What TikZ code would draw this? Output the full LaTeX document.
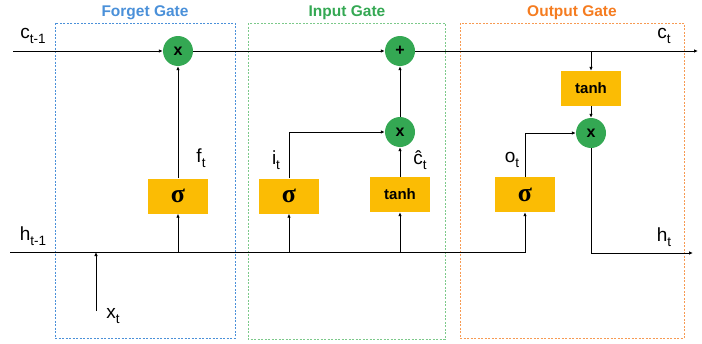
\documentclass[tikz,border=0pt]{standalone}
\usepackage{fontspec}
\setmainfont{Liberation Sans}
\newfontfamily\sigfont{Liberation Serif}
\usetikzlibrary{arrows.meta}
\definecolor{fgblue}{HTML}{4A90D9}
\definecolor{ingreen}{HTML}{34A853}
\definecolor{inbox}{HTML}{7CC98A}
\definecolor{outorange}{HTML}{F57C20}
\definecolor{outbox}{HTML}{F79A52}
\definecolor{opgreen}{HTML}{34A853}
\definecolor{fnyellow}{HTML}{FBBC04}
\newcommand{\lbl}[2]{{\fontsize{19}{19}\selectfont #1}\raisebox{-5pt}{\fontsize{13.5}{13.5}\selectfont #2}}
\newcommand{\sig}{{\sigfont\bfseries\fontsize{26}{26}\selectfont σ}}
\begin{document}
\begin{tikzpicture}[x=1pt,y=-1pt,
  op/.style={circle,fill=opgreen,minimum size=30pt,inner sep=0pt,font=\bfseries\fontsize{16}{16}\selectfont},
  fn/.style={rectangle,fill=fnyellow,minimum width=60pt,minimum height=35pt,inner sep=0pt,font=\bfseries\fontsize{15}{15}\selectfont},
  arr/.style={-{Latex[length=4pt,width=3.5pt]},line width=0.8pt},
  gatebox/.style={dash pattern=on 2pt off 1.5pt,line width=0.9pt},
  title/.style={font=\bfseries\fontsize{15.5}{15.5}\selectfont},
  lab/.style={inner sep=0pt}]
\useasboundingbox (0,0) rectangle (702,343);
% gate boxes
\draw[gatebox,fgblue] (55,23) rectangle (235,338);
\draw[gatebox,inbox] (248,23) rectangle (445,339);
\draw[gatebox,outbox] (460,23) rectangle (684,338);
\node[title,text=fgblue] (tf) at (145,13) {Forget Gate};
\node[title,text=ingreen] (ti) at (347,13) {Input Gate};
\node[title,text=outorange] (to) at (572,13) {Output Gate};
% operators
\node[op] (fx) at (178,51) {x};
\node[op] (plus) at (400,51) {+};
\node[op] (ix) at (400,132) {x};
\node[op] (ox) at (591,133) {x};
% functions
\node[fn] (fs) at (178,196) {\sig};
\node[fn] (is) at (289,196) {\sig};
\node[fn] (it) at (400,194.5) {tanh};
\node[fn] (os) at (525,194.5) {\sig};
\node[fn] (ot) at (591,88.5) {tanh};
% free ends
\coordinate (cin) at (13,51);
\coordinate (cout) at (698,51);
\coordinate (hin) at (10,252);
\coordinate (xt) at (96,311);
\coordinate (xtj) at (96,252);
\coordinate (hout) at (693,253);
% connectors
\draw[arr] (cin) -- (fx);
\draw[arr] (fx) -- (plus);
\draw[arr] (plus) -- (cout);
\draw[arr] (hin) -| (os);
\draw[arr] (xt) -- (xtj);
\draw[arr] (fs.south |- hin) -- (fs);
\draw[arr] (fs) -- (fx);
\draw[arr] (is.south |- hin) -- (is);
\draw[arr] (is) |- (ix);
\draw[arr] (it.south |- hin) -- (it);
\draw[arr] (it) -- (ix);
\draw[arr] (ix) -- (plus);
\draw[arr] (ot.north |- cout) -- (ot);
\draw[arr] (ot) -- (ox);
\draw[arr] (os) |- (ox);
\draw[arr] (ox) |- (hout);
% labels
\node[lab] (lc0) at (33,36) {\lbl{c}{t-1}};
\node[lab] (lh0) at (33,236) {\lbl{h}{t-1}};
\node[lab] (lx) at (113,316) {\lbl{x}{t}};
\node[lab] (lf) at (201,158) {\lbl{f}{t}};
\node[lab] (li) at (276,160) {\lbl{i}{t}};
\node[lab] (lct) at (420,160) {\lbl{ĉ}{t}};
\node[lab] (lo) at (512,160) {\lbl{o}{t}};
\node[lab] (lh) at (664,237) {\lbl{h}{t}};
\node[lab] (lc) at (664,36) {\lbl{c}{t}};
\end{tikzpicture}
\end{document}
